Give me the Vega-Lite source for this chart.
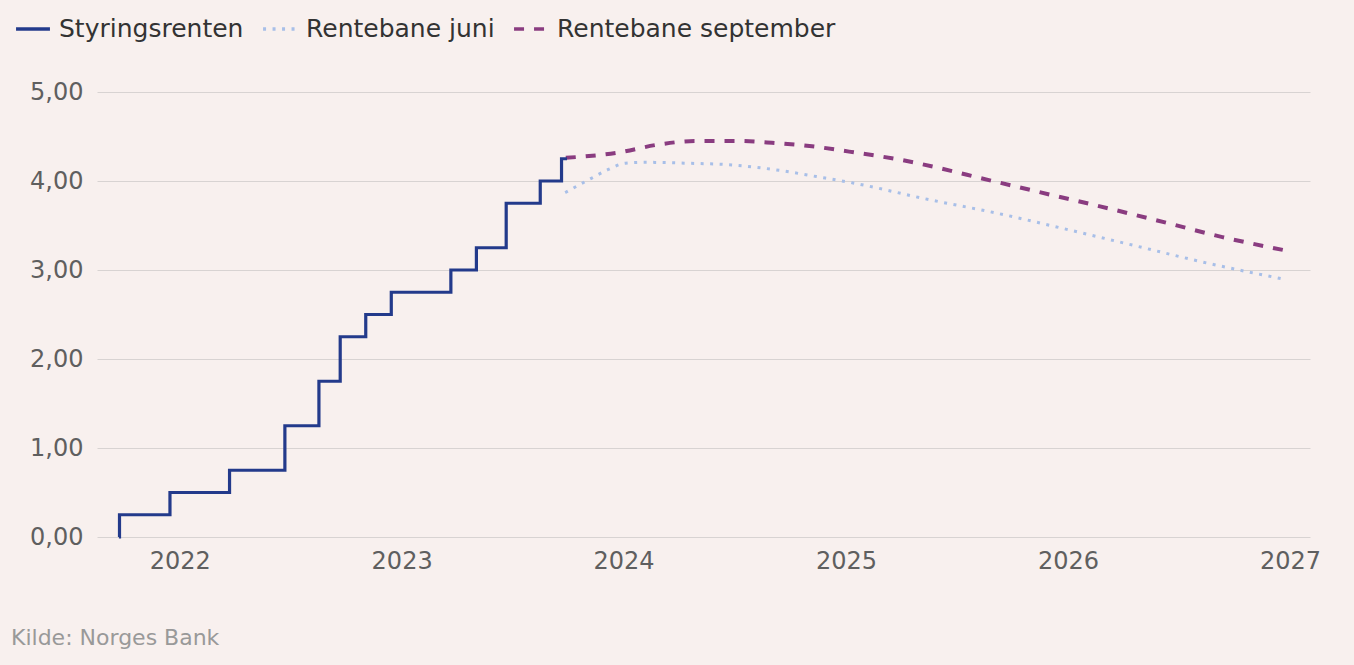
{
  "$schema": "https://vega.github.io/schema/vega-lite/v6.json",
  "width": 1213,
  "height": 445,
  "autosize": {"type": "none"},
  "padding": {"left": 97, "top": 92, "right": 44, "bottom": 128},
  "background": "#f8f0ee",
  "config": {
    "view": {"stroke": null},
    "font": "DejaVu Sans",
    "axis": {"labelFont": "DejaVu Sans", "labelColor": "#5f5f5f", "labelFontSize": 24, "domain": false, "ticks": false}
  },
  "title": {
    "text": "Kilde: Norges Bank",
    "orient": "bottom",
    "anchor": "start",
    "dx": -3,
    "offset": 55,
    "fontSize": 22,
    "fontWeight": "normal",
    "color": "#999999",
    "font": "DejaVu Sans"
  },
  "datasets": {
    "rate": [
      {"date": "2021-09-23", "value": 0, "series": "Styringsrenten"},
      {"date": "2021-09-24", "value": 0.25, "series": "Styringsrenten"},
      {"date": "2021-12-16", "value": 0.5, "series": "Styringsrenten"},
      {"date": "2022-03-24", "value": 0.75, "series": "Styringsrenten"},
      {"date": "2022-06-23", "value": 1.25, "series": "Styringsrenten"},
      {"date": "2022-08-18", "value": 1.75, "series": "Styringsrenten"},
      {"date": "2022-09-22", "value": 2.25, "series": "Styringsrenten"},
      {"date": "2022-11-03", "value": 2.5, "series": "Styringsrenten"},
      {"date": "2022-12-15", "value": 2.75, "series": "Styringsrenten"},
      {"date": "2023-03-23", "value": 3.0, "series": "Styringsrenten"},
      {"date": "2023-05-04", "value": 3.25, "series": "Styringsrenten"},
      {"date": "2023-06-22", "value": 3.75, "series": "Styringsrenten"},
      {"date": "2023-08-17", "value": 4.0, "series": "Styringsrenten"},
      {"date": "2023-09-21", "value": 4.25, "series": "Styringsrenten"},
      {"date": "2023-09-30", "value": 4.25, "series": "Styringsrenten"}
    ],
    "juni": [
      {"date": "2023-09-27", "value": 3.87, "series": "Rentebane juni"},
      {"date": "2023-11-09", "value": 4.03, "series": "Rentebane juni"},
      {"date": "2023-12-07", "value": 4.13, "series": "Rentebane juni"},
      {"date": "2024-01-04", "value": 4.2, "series": "Rentebane juni"},
      {"date": "2024-02-06", "value": 4.21, "series": "Rentebane juni"},
      {"date": "2024-04-13", "value": 4.2, "series": "Rentebane juni"},
      {"date": "2024-06-28", "value": 4.18, "series": "Rentebane juni"},
      {"date": "2024-09-13", "value": 4.12, "series": "Rentebane juni"},
      {"date": "2024-11-13", "value": 4.05, "series": "Rentebane juni"},
      {"date": "2025-01-11", "value": 3.98, "series": "Rentebane juni"},
      {"date": "2025-05-18", "value": 3.79, "series": "Rentebane juni"},
      {"date": "2025-09-05", "value": 3.64, "series": "Rentebane juni"},
      {"date": "2026-01-03", "value": 3.45, "series": "Rentebane juni"},
      {"date": "2026-04-23", "value": 3.27, "series": "Rentebane juni"},
      {"date": "2026-08-10", "value": 3.09, "series": "Rentebane juni"},
      {"date": "2026-12-27", "value": 2.89, "series": "Rentebane juni"}
    ],
    "september": [
      {"date": "2023-09-28", "value": 4.26, "series": "Rentebane september"},
      {"date": "2023-12-24", "value": 4.32, "series": "Rentebane september"},
      {"date": "2024-02-28", "value": 4.41, "series": "Rentebane september"},
      {"date": "2024-04-29", "value": 4.45, "series": "Rentebane september"},
      {"date": "2024-07-03", "value": 4.45, "series": "Rentebane september"},
      {"date": "2024-09-01", "value": 4.43, "series": "Rentebane september"},
      {"date": "2024-11-06", "value": 4.39, "series": "Rentebane september"},
      {"date": "2025-01-06", "value": 4.33, "series": "Rentebane september"},
      {"date": "2025-03-30", "value": 4.24, "series": "Rentebane september"},
      {"date": "2025-09-05", "value": 3.99, "series": "Rentebane september"},
      {"date": "2025-12-13", "value": 3.83, "series": "Rentebane september"},
      {"date": "2026-03-10", "value": 3.69, "series": "Rentebane september"},
      {"date": "2026-06-12", "value": 3.53, "series": "Rentebane september"},
      {"date": "2026-09-12", "value": 3.37, "series": "Rentebane september"},
      {"date": "2027-01-01", "value": 3.21, "series": "Rentebane september"}
    ]
  },
  "encoding": {
    "x": {
      "field": "date",
      "type": "temporal",
      "scale": {"domain": [{"year": 2021, "month": 8, "date": 18}, {"year": 2027, "month": 2, "date": 3}]},
      "axis": {"title": null, "format": "%Y", "tickCount": {"interval": "year", "step": 1}, "grid": false, "labelPadding": 12}
    },
    "y": {
      "field": "value",
      "type": "quantitative",
      "scale": {"domain": [0, 5]},
      "axis": {"title": null, "values": [0, 1, 2, 3, 4, 5], "format": ".2f", "labelExpr": "replace(datum.label, '.', ',')", "gridColor": "#d8d3d2", "gridWidth": 1.2, "labelPadding": 14}
    },
    "color": {
      "field": "series",
      "type": "nominal",
      "scale": {"domain": ["Styringsrenten", "Rentebane juni", "Rentebane september"], "range": ["#233a8b", "#a8bfe8", "#8a3c80"]},
      "legend": {
        "title": null,
        "orient": "none",
        "direction": "horizontal",
        "legendX": -83,
        "legendY": -82,
        "labelFontSize": 25,
        "labelColor": "#333333",
        "labelFont": "DejaVu Sans",
        "labelLimit": 0,
        "symbolSize": 1150,
        "symbolStrokeWidth": 3.5,
        "columnPadding": 12,
        "labelOffset": 7
      }
    },
    "strokeDash": {
      "field": "series",
      "type": "nominal",
      "scale": {"domain": ["Styringsrenten", "Rentebane juni", "Rentebane september"], "range": [[1, 0], [3, 6.5], [10, 10]]},
      "legend": null
    }
  },
  "layer": [
    {"data": {"name": "juni"}, "mark": {"type": "line", "interpolate": "monotone", "strokeWidth": 3}},
    {"data": {"name": "september"}, "mark": {"type": "line", "interpolate": "monotone", "strokeWidth": 4}},
    {"data": {"name": "rate"}, "mark": {"type": "line", "interpolate": "step-after", "strokeWidth": 3.2}}
  ]
}
